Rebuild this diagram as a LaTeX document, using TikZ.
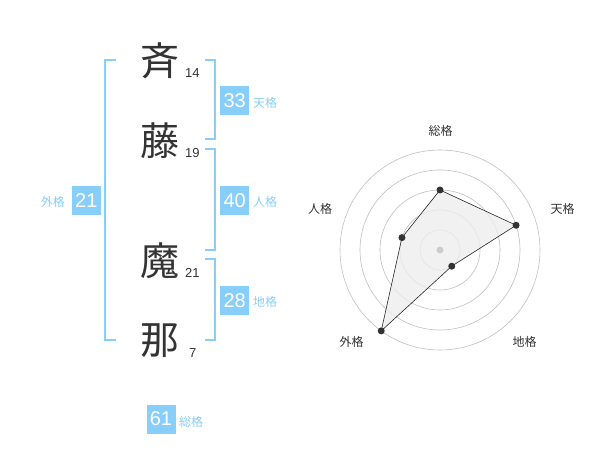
\documentclass[tikz,border=0pt]{standalone}
\usepackage{fontspec}
\setmainfont{Liberation Sans}
\newfontfamily\jpfont{Noto Sans CJK JP}
\definecolor{skyline}{RGB}{135,206,250}
\definecolor{inkgray}{RGB}{51,51,51}
\tikzset{
  kanji/.style={font=\jpfont\fontsize{39}{39}\selectfont, text=inkgray, inner sep=0pt},
  strokes/.style={font=\fontsize{13}{13}\selectfont, text=inkgray, inner sep=0pt},
  scorebox/.style={fill=skyline, text=white, minimum width=29pt, minimum height=29pt, inner sep=0pt, font=\fontsize{20}{20}\selectfont},
  kaku/.style={font=\jpfont\fontsize{12}{12}\selectfont, text=skyline, inner sep=0pt},
  bracket/.style={draw=skyline, line width=2pt},
  ring/.style={draw=black!25, line width=0.6pt},
  axislabel/.style={font=\jpfont\fontsize{12}{12}\selectfont, text=inkgray, inner sep=0pt}
}
\begin{document}
\begin{tikzpicture}[x=1pt, y=-1pt]
    \useasboundingbox (0,0) rectangle (600,470);

    % name
    \node[kanji](K1) at (160,61) {斉};
    \node[kanji](K2) at (160,141) {藤};
    \node[kanji](K3) at (160,261) {魔};
    \node[kanji](K4) at (160,341) {那};

    \node[strokes, anchor=west](N1) at (185,73) {14};
    \node[strokes, anchor=west](N2) at (185,153) {19};
    \node[strokes, anchor=west](N3) at (185,273) {21};
    \node[strokes, anchor=west](N4) at (189,353) {7};

    % brackets
    \coordinate (GaiTop) at (116,60);
    \coordinate (GaiBot) at (116,340);
    \coordinate (TenTop) at (205,60);
    \coordinate (TenBot) at (205,139.5);
    \coordinate (JinTop) at (205,149.5);
    \coordinate (JinBot) at (205,250);
    \coordinate (ChiTop) at (205,259.5);
    \coordinate (ChiBot) at (205,340);

    \draw[bracket] (GaiTop) -- ++(-11.5,0) |- (GaiBot);
    \draw[bracket] (TenTop) -- ++(9.5,0) |- (TenBot);
    \draw[bracket] (JinTop) -- ++(9.5,0) |- (JinBot);
    \draw[bracket] (ChiTop) -- ++(9.5,0) |- (ChiBot);

    % scores
    \node[scorebox](TenB) at (234.7,100.3) {33};
    \node[kaku, anchor=west](TenL) at (253,103) {天格};
    \node[scorebox](JinB) at (234.7,200.3) {40};
    \node[kaku, anchor=west](JinL) at (253,202) {人格};
    \node[scorebox](ChiB) at (234.7,300.3) {28};
    \node[kaku, anchor=west](ChiL) at (253,302) {地格};
    \node[scorebox](GaiB) at (86.3,200.3) {21};
    \node[kaku, anchor=east](GaiL) at (65,202) {外格};
    \node[scorebox](SouB) at (161,419) {61};
    \node[kaku, anchor=west](SouL) at (179,422) {総格};

    % radar
    \begin{scope}[shift={(440,250)}, yscale=-1]
        \foreach \r in {20,40,...,100}
            \draw[ring] (0,0) circle (\r);

        \coordinate (SouP) at (90:60);
        \coordinate (TenP) at (18:80);
        \coordinate (ChiP) at (-54:20);
        \coordinate (GaiP) at (-126:100);
        \coordinate (JinP) at (162:40);

        \filldraw[fill=black!7, fill opacity=0.8, draw=black!85, line width=0.6pt]
            (SouP) -- (TenP) -- (ChiP) -- (GaiP) -- (JinP) -- cycle;
        \fill[black!20] (0,0) circle (3.5);
        \foreach \p in {SouP,TenP,ChiP,GaiP,JinP}
            \fill[inkgray] (\p) circle (3.5);

        \node[axislabel](SouA) at (0.5,119) {総格};
        \node[axislabel](TenA) at (122.5,41.3) {天格};
        \node[axislabel](JinA) at (-120,41.3) {人格};
        \node[axislabel](ChiA) at (84.5,-91.7) {地格};
        \node[axislabel](GaiA) at (-88.3,-91.7) {外格};
    \end{scope}
\end{tikzpicture}
\end{document}
